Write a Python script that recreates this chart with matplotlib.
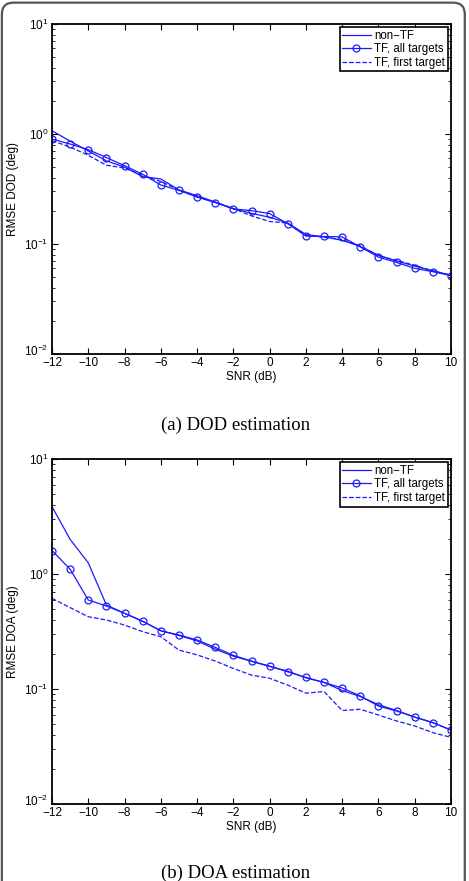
import numpy as np
import matplotlib.pyplot as plt
import matplotlib.transforms as mtransforms
from matplotlib.patches import FancyBboxPatch

snr = list(range(-12, 11))

# (a) DOD estimation
dod_nontf = [1.07, 0.86, 0.70, 0.57, 0.50, 0.41, 0.39, 0.31, 0.275, 0.24, 0.21,
             0.19, 0.175, 0.155, 0.122, 0.116, 0.108, 0.095, 0.079, 0.070, 0.063, 0.057, 0.052]
dod_tf_all = [0.90, 0.81, 0.72, 0.61, 0.515, 0.43, 0.344, 0.307, 0.267, 0.238, 0.208,
              0.201, 0.189, 0.153, 0.118, 0.117, 0.116, 0.094, 0.076, 0.068, 0.060, 0.056, 0.0515]
dod_tf_first = [0.87, 0.76, 0.64, 0.52, 0.49, 0.42, 0.37, 0.31, 0.27, 0.24, 0.21,
                0.18, 0.16, 0.155, 0.120, 0.115, 0.110, 0.096, 0.078, 0.071, 0.064, 0.057, 0.052]

# (b) DOA estimation
doa_nontf = [3.85, 2.0, 1.25, 0.537, 0.455, 0.388, 0.321, 0.292, 0.262, 0.222, 0.193,
             0.174, 0.157, 0.143, 0.125, 0.114, 0.097, 0.086, 0.073, 0.065, 0.057, 0.051, 0.044]
doa_tf_all = [1.6, 1.1, 0.594, 0.527, 0.455, 0.388, 0.321, 0.295, 0.267, 0.23, 0.196,
              0.175, 0.158, 0.141, 0.126, 0.114, 0.102, 0.087, 0.071, 0.0644, 0.057, 0.051, 0.044]
doa_tf_first = [0.614, 0.51, 0.425, 0.398, 0.36, 0.315, 0.285, 0.218, 0.198, 0.175, 0.151,
                0.132, 0.124, 0.108, 0.092, 0.095, 0.065, 0.0666, 0.0594, 0.0527, 0.0477, 0.0417, 0.038]

labels = ["non\u2212TF", "TF, all targets", "TF, first target"]
xticks = list(range(-12, 11, 2))

plt.rcParams['font.family'] = ['Liberation Sans', 'DejaVu Sans']
plt.rcParams['mathtext.fontset'] = 'custom'
plt.rcParams['mathtext.rm'] = 'Liberation Sans'
plt.rcParams['axes.unicode_minus'] = True

fig = plt.figure(figsize=(4.69, 8.81), dpi=100)

frame = FancyBboxPatch((0.004, -0.05), 0.987, 1.047,
                       boxstyle="round,pad=0,rounding_size=0.025",
                       transform=fig.transFigure, fill=False,
                       edgecolor='#555555', linewidth=1.6, mutation_aspect=0.53)
fig.patches.append(frame)

ax1 = fig.add_axes([0.1109, 0.5982, 0.8507, 0.3746])
ax2 = fig.add_axes([0.1109, 0.0874, 0.8507, 0.3916])

col = '#1a1aff'
for ax, d1, d2, d3, name in [(ax1, dod_nontf, dod_tf_all, dod_tf_first, "RMSE DOD (deg)"),
                             (ax2, doa_nontf, doa_tf_all, doa_tf_first, "RMSE DOA (deg)")]:
    ax.plot(snr, d1, '-', color=col, lw=0.9, label=labels[0])
    ax.plot(snr, d2, '-o', color=col, lw=0.9, ms=5, mfc='none', mew=0.9, label=labels[1])
    ax.plot(snr, d3, '--', color=col, lw=0.9, label=labels[2])
    ax.set_yscale('log')
    ax.set_ylim(1e-2, 10)
    ax.set_xlim(-12, 10)
    ax.set_xticks(xticks)
    ax.set_xticklabels([str(t).replace('-', '\u2212') for t in xticks])
    ax.set_xlabel("SNR (dB)", fontsize=8.5, labelpad=1)
    ax.set_ylabel(name, fontsize=8.5)
    ax.yaxis.set_label_coords(-0.083, 0.5)
    ax.tick_params(which='both', direction='in', top=True, right=True, labelsize=8.5, pad=2.5)
    ax.tick_params(which='major', length=4, width=0.8)
    ax.tick_params(which='minor', length=2, width=0.6)
    for s in ax.spines.values():
        s.set_linewidth(1.3)
    leg = ax.legend(loc='upper right', fontsize=8.3, fancybox=False, framealpha=1,
                    edgecolor='black', handlelength=2.5, handletextpad=0.3,
                    borderpad=0.2, labelspacing=0.15, borderaxespad=0.3)
    leg.get_frame().set_linewidth(1.2)
    fig.canvas.draw()
    # lift the lowest decade label a little so it clears the -12 label
    for lab in ax.get_yticklabels():
        if lab.get_position()[1] <= 0.0101:
            lab.set_transform(lab.get_transform() +
                              mtransforms.ScaledTranslation(0, 3 / 72, fig.dpi_scale_trans))

fig.text(0.503, 1 - 425 / 881, "(a) DOD estimation", ha='center', va='center',
         fontsize=13.5, family='Liberation Serif')
fig.text(0.503, 1 - 873 / 881, "(b) DOA estimation", ha='center', va='center',
         fontsize=13.5, family='Liberation Serif')

fig.savefig("out.png", dpi=100)
